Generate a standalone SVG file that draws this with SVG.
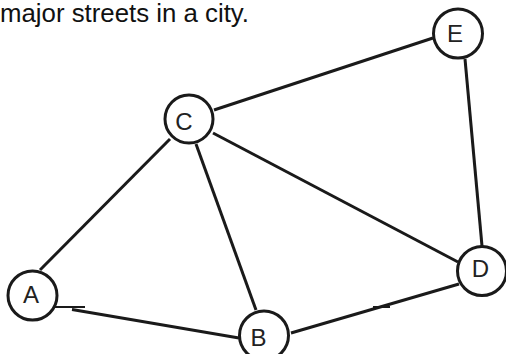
<svg xmlns="http://www.w3.org/2000/svg" width="506" height="354" viewBox="0 0 506 354">
<style>
.edge{stroke:#1a1a1a;stroke-width:3;fill:none;stroke-linecap:butt}
.stub{stroke:#1a1a1a;stroke-width:2;fill:none}
.node circle{fill:#fff;stroke:#1a1a1a;stroke-width:3}
.node text{font-family:"Liberation Sans",Arial,sans-serif;font-size:24px;fill:#222;text-anchor:middle}
.title{font-family:"Liberation Sans",Arial,sans-serif;font-size:25.8px;fill:#111}
</style>
<rect width="506" height="354" fill="#fff"/>
<text class="title" x="0" y="22">major streets in a city.</text>
<g id="connectors">
<line class="edge" x1="170" y1="139" x2="40" y2="270"/>
<line class="edge" x1="196" y1="144" x2="256" y2="310"/>
<line class="edge" x1="213" y1="133" x2="458" y2="262"/>
<line class="edge" x1="214" y1="110" x2="433" y2="38"/>
<line class="edge" x1="465" y1="59" x2="482" y2="246"/>
<line class="edge" x1="72" y1="309.5" x2="239" y2="338"/>
<line class="stub" x1="49" y1="307" x2="85" y2="307"/>
<line class="edge" x1="291" y1="333" x2="459" y2="284"/>
<line class="stub" x1="373" y1="307" x2="390" y2="307"/>
</g>
<g id="node-C" class="node"><circle cx="189" cy="119" r="24"/><text x="184" y="130">C</text></g>
<g id="node-A" class="node"><circle cx="32.5" cy="295.5" r="24.5"/><text x="31" y="303">A</text></g>
<g id="node-B" class="node"><circle cx="264" cy="335.5" r="24.5"/><text x="258.5" y="346">B</text></g>
<g id="node-D" class="node"><circle cx="482" cy="271" r="24.5"/><text x="480.5" y="277">D</text></g>
<g id="node-E" class="node"><circle cx="458" cy="33.5" r="24.5"/><text x="455" y="42">E</text></g>
</svg>
